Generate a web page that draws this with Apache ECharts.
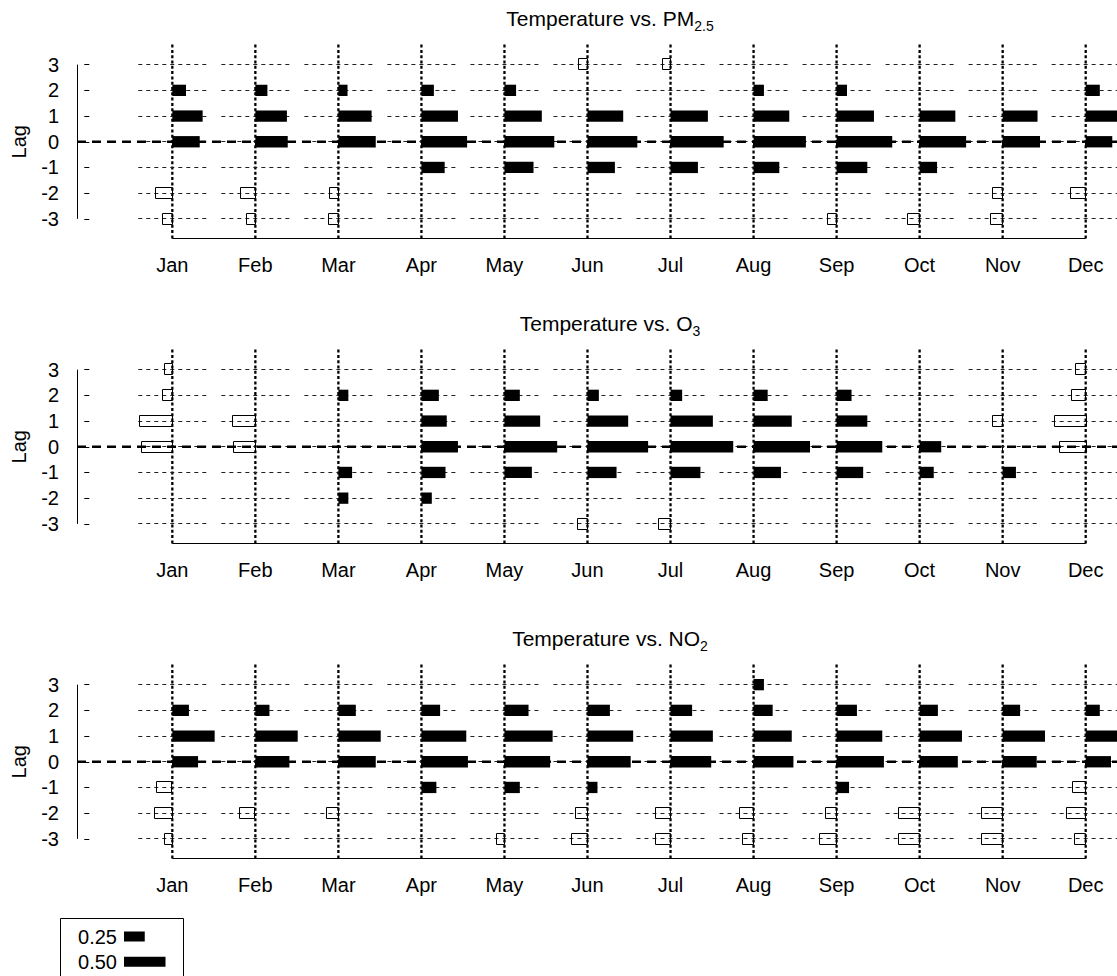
<!DOCTYPE html>
<html>
<head>
<meta charset="utf-8">
<script src="https://cdn.jsdelivr.net/npm/echarts@6/dist/echarts.min.js"></script>
<style>
  html, body { margin: 0; padding: 0; background: #fff; }
  #chart { width: 1117px; height: 976px; }
</style>
</head>
<body>
<div id="chart"></div>
<script>
// Month labels along the x axis and lags along the y axis.
const MONTHS = ['Jan', 'Feb', 'Mar', 'Apr', 'May', 'Jun', 'Jul', 'Aug', 'Sep', 'Oct', 'Nov', 'Dec'];
const LAGS = [3, 2, 1, 0, -1, -2, -3];

// Correlation of temperature with each pollutant, one row per lag (3 .. -3),
// one column per month. null = not significant (no bar).
const PM25 = [
  [null, null, null, null, null, -0.11, -0.10, null, null, null, null, null],
  [0.165, 0.145, 0.11, 0.15, 0.14, null, null, 0.125, 0.125, null, null, 0.17],
  [0.365, 0.38, 0.40, 0.44, 0.45, 0.43, 0.45, 0.43, 0.45, 0.43, 0.42, 0.46],
  [0.33, 0.39, 0.45, 0.55, 0.60, 0.60, 0.64, 0.63, 0.67, 0.56, 0.45, 0.32],
  [null, null, null, 0.28, 0.35, 0.33, 0.33, 0.31, 0.37, 0.21, null, null],
  [-0.20, -0.18, -0.11, null, null, null, null, null, null, null, -0.12, -0.18],
  [-0.12, -0.11, -0.12, null, null, null, null, null, -0.11, -0.15, -0.15, null]
];
const O3 = [
  [-0.10, null, null, null, null, null, null, null, null, null, null, -0.12],
  [-0.12, null, 0.12, 0.21, 0.185, 0.137, 0.14, 0.17, 0.18, null, null, -0.17],
  [-0.40, -0.28, null, 0.305, 0.43, 0.49, 0.51, 0.46, 0.37, null, -0.12, -0.38],
  [-0.37, -0.26, null, 0.44, 0.635, 0.73, 0.755, 0.68, 0.55, 0.26, null, -0.32],
  [null, null, 0.165, 0.29, 0.33, 0.35, 0.36, 0.33, 0.32, 0.17, 0.16, null],
  [null, null, 0.12, 0.125, null, null, null, null, null, null, null, null],
  [null, null, null, null, null, -0.12, -0.15, null, null, null, null, null]
];
const NO2 = [
  [null, null, null, null, null, null, null, 0.125, null, null, null, null],
  [0.20, 0.17, 0.21, 0.225, 0.29, 0.27, 0.26, 0.23, 0.245, 0.22, 0.21, 0.17],
  [0.51, 0.51, 0.51, 0.54, 0.58, 0.55, 0.51, 0.46, 0.55, 0.51, 0.51, 0.50],
  [0.31, 0.41, 0.45, 0.56, 0.55, 0.52, 0.49, 0.48, 0.57, 0.46, 0.41, 0.305],
  [-0.185, null, null, 0.18, 0.185, 0.12, null, null, 0.15, null, null, -0.157],
  [-0.22, -0.185, -0.145, null, null, -0.15, -0.185, -0.17, -0.137, -0.25, -0.25, -0.23],
  [-0.10, null, null, null, -0.10, -0.19, -0.18, -0.137, -0.20, -0.25, -0.25, -0.13]
];

// Key: bar lengths shown in the legend box.
const LEGEND_VALUES = [0.25, 0.50];

const FONT = '"Liberation Sans", Arial, Helvetica, sans-serif';
const X_MIN = -0.148, X_MAX = 12.377;   // month scale; 1 month == correlation of 1
const Y_MIN = -3.78, Y_MAX = 3.78;
const LEGEND_X = 0.418;                 // start of the key bars, in month units
const BAR_H = 0.44;                     // bar thickness, in lag units

const PANELS = [
  { title: ['Temperature vs. PM', '2.5'], values: PM25, top: 44.6, titleTop: 7.5 },
  { title: ['Temperature vs. O', '3'], values: O3, top: 349.6, titleTop: 312.5 },
  { title: ['Temperature vs. NO', '2'], values: NO2, top: 664.6, titleTop: 627.5 }
];
const PANEL_H = 194.3;

const monthIdx = MONTHS.map((_, i) => i + 1);
const half = v => Math.round(v - 0.5) + 0.5;

function barData(values) {
  const out = [];
  values.forEach((row, li) => row.forEach((r, mi) => {
    if (r !== null) out.push([mi + 1, LAGS[li], r]);
  }));
  return out;
}

const grid = [], xAxis = [], yAxis = [], series = [];

PANELS.forEach((p, i) => {
  grid.push({ left: 77, right: 0, top: p.top, height: PANEL_H });
  xAxis.push({
    gridIndex: i, type: 'value', min: X_MIN, max: X_MAX,
    splitLine: { show: false }, axisLine: { show: false },
    axisTick: { show: true, customValues: monthIdx, length: 5, lineStyle: { color: '#000', width: 1 } },
    axisLabel: {
      customValues: monthIdx, formatter: v => MONTHS[Math.round(v) - 1],
      color: '#000', fontSize: 20, fontFamily: FONT, margin: 16
    }
  });
  yAxis.push({
    gridIndex: i, type: 'value', min: Y_MIN, max: Y_MAX,
    splitLine: { show: false }, axisLine: { show: false },
    axisTick: { show: true, customValues: LAGS, length: 5, lineStyle: { color: '#000', width: 1 } },
    axisLabel: {
      customValues: LAGS, formatter: v => String(Math.round(v)),
      color: '#000', fontSize: 20, fontFamily: FONT, margin: 18
    },
    name: 'Lag', nameLocation: 'middle', nameGap: 48, nameRotate: 90,
    nameTextStyle: { color: '#000', fontSize: 20, fontFamily: FONT }
  });

  // Month guide lines (dotted verticals) and per-month lag segments.
  series.push({
    type: 'custom', xAxisIndex: i, yAxisIndex: i, silent: true, z: 1,
    data: monthIdx.map(m => [m]),
    renderItem(params, api) {
      const m = api.value(0);
      const cs = params.coordSys;
      const x = api.coord([m, 0])[0];
      const children = [{
        type: 'line',
        shape: { x1: x, y1: cs.y, x2: x, y2: cs.y + cs.height },
        style: { stroke: '#000', lineWidth: 2.3, lineDash: [3, 2.3] }
      }];
      LAGS.forEach(lag => {
        const a = api.coord([m - 0.41, lag]);
        const b = api.coord([m + 0.41, lag]);
        const y = half(a[1]);
        children.push({
          type: 'line',
          shape: { x1: a[0], y1: y, x2: b[0], y2: y },
          style: { stroke: '#222', lineWidth: 1.1, lineDash: [4, 4] }
        });
      });
      return { type: 'group', children };
    }
  });

  // Axis lines and the zero-lag reference line.
  series.push({
    type: 'custom', xAxisIndex: i, yAxisIndex: i, silent: true, z: 2,
    data: [[0]],
    renderItem(params, api) {
      const xa = api.coord([1, Y_MIN]), xb = api.coord([12, Y_MIN]);
      const ya = api.coord([X_MIN, 3]), yb = api.coord([X_MIN, -3]);
      const za = api.coord([X_MIN, 0]), zb = api.coord([X_MAX, 0]);
      return {
        type: 'group', children: [
          { type: 'line', shape: { x1: xa[0], y1: half(xa[1]), x2: xb[0], y2: half(xb[1]) },
            style: { stroke: '#000', lineWidth: 1 } },
          { type: 'line', shape: { x1: half(ya[0]), y1: ya[1], x2: half(yb[0]), y2: yb[1] },
            style: { stroke: '#000', lineWidth: 1 } },
          { type: 'line', shape: { x1: za[0], y1: za[1], x2: zb[0], y2: zb[1] },
            style: { stroke: '#000', lineWidth: 2.6, lineDash: [9, 6] } }
        ]
      };
    }
  });

  // Correlation bars: filled to the right when positive, open to the left when negative.
  series.push({
    type: 'custom', xAxisIndex: i, yAxisIndex: i, silent: true, z: 3,
    encode: { x: 0, y: 1 },
    data: barData(p.values),
    renderItem(params, api) {
      const m = api.value(0), lag = api.value(1), r = api.value(2);
      const p0 = api.coord([m, lag]);
      const p1 = api.coord([m + r, lag]);
      const h = api.size([0, BAR_H])[1];
      const x = Math.min(p0[0], p1[0]);
      const w = Math.abs(p1[0] - p0[0]);
      if (r > 0) {
        return { type: 'rect', shape: { x, y: p0[1] - h / 2, width: w, height: h },
                 style: { fill: '#000' } };
      }
      return { type: 'rect', shape: { x: half(x), y: half(p0[1] - h / 2), width: Math.round(w), height: Math.round(h) },
               style: { fill: 'none', stroke: '#000', lineWidth: 1 } };
    }
  });
});

// Key grid below the panels, sharing the month scale.
const K = PANELS.length;
grid.push({ left: 77, right: 0, top: 923.9, height: 50.4 });
xAxis.push({ gridIndex: K, type: 'value', min: X_MIN, max: X_MAX, show: false });
yAxis.push({ gridIndex: K, type: 'value', min: 0, max: 2, inverse: true, show: false });
series.push({
  type: 'custom', xAxisIndex: K, yAxisIndex: K, silent: true, z: 3,
  data: LEGEND_VALUES.map((v, i) => [i + 0.5, v]),
  renderItem(params, api) {
    const row = api.value(0), v = api.value(1);
    const p0 = api.coord([LEGEND_X, row]);
    const p1 = api.coord([LEGEND_X + v, row]);
    const h = api.size([0, 0.4])[1];
    return {
      type: 'group', children: [
        { type: 'rect', shape: { x: p0[0], y: p0[1] - h / 2, width: p1[0] - p0[0], height: h },
          style: { fill: '#000' } },
        { type: 'text', style: { text: v.toFixed(2), x: p0[0] - 7, y: p0[1],
          align: 'right', verticalAlign: 'middle', fill: '#000', fontSize: 20, fontFamily: FONT } }
      ]
    };
  }
});

const title = PANELS.map(p => ({
  text: '{m|' + p.title[0] + '}{s|' + p.title[1] + '}',
  left: 610, top: p.titleTop, textAlign: 'center', padding: 0,
  textStyle: {
    fontWeight: 'normal',
    rich: {
      m: { fontSize: 21, fontWeight: 'normal', fontFamily: FONT, color: '#000', lineHeight: 26, verticalAlign: 'top' },
      s: { fontSize: 14, fontWeight: 'normal', fontFamily: FONT, color: '#000', lineHeight: 16, padding: [11, 0, 0, 0], verticalAlign: 'top' }
    }
  }
}));

const chart = echarts.init(document.getElementById('chart'), null, { renderer: 'svg' });
chart.setOption({
  animation: false,
  backgroundColor: '#fff',
  title,
  grid, xAxis, yAxis, series,
  graphic: [{
    type: 'rect', silent: true,
    shape: { x: 60.5, y: 918.5, width: 123, height: 80 },
    style: { fill: 'none', stroke: '#000', lineWidth: 1 }
  }]
});
</script>
</body>
</html>
